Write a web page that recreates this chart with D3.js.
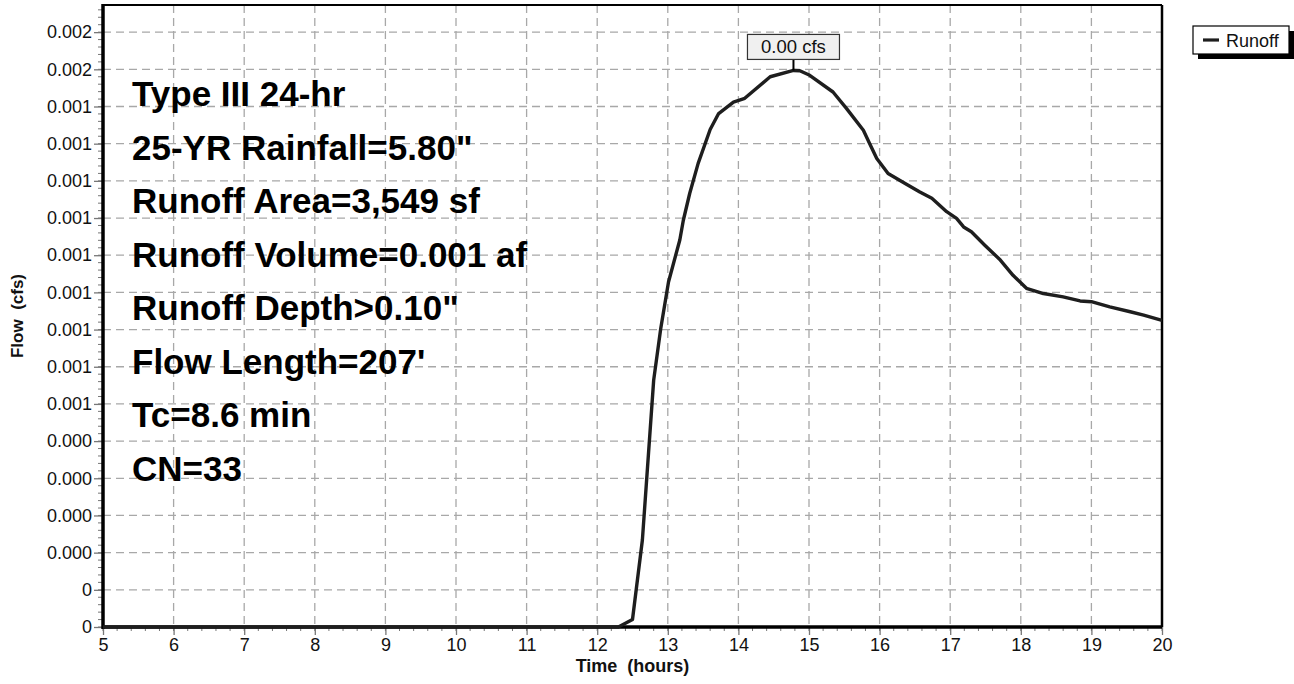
<!DOCTYPE html>
<html><head><meta charset="utf-8">
<script src="https://cdn.jsdelivr.net/npm/d3@7"></script>
<style>
html,body{margin:0;padding:0;background:#fff;}
svg{display:block;font-family:"Liberation Sans",Arial,Helvetica,sans-serif;}
</style></head>
<body><svg id="c" width="1294" height="684"></svg>
<script>
// ---- data ----
const seriesName = "Runoff";
const timeHours = [5.0,12.30,12.50,12.64,12.80,12.90,13.01,13.17,13.22,13.31,13.43,13.60,13.72,13.93,14.09,14.45,14.78,14.87,15.01,15.34,15.53,15.77,15.86,15.96,16.12,16.38,16.57,16.74,16.95,17.09,17.19,17.30,17.49,17.71,17.89,18.08,18.32,18.60,18.84,19.00,19.26,19.55,19.74,20.00];
const flowCfs = [0,0,0.00002,0.000234,0.000664,0.000803,0.000928,0.001041,0.001094,0.001166,0.001247,0.001338,0.001381,0.001412,0.001422,0.001480,0.001497,0.001496,0.001484,0.001439,0.001395,0.001336,0.001300,0.001260,0.001220,0.001191,0.001170,0.001153,0.001117,0.001099,0.001076,0.001063,0.001027,0.000987,0.000946,0.000911,0.000897,0.000888,0.000877,0.000875,0.000861,0.000848,0.000839,0.000825];
const xTickValues = [5,6,7,8,9,10,11,12,13,14,15,16,17,18,19,20];
const yTickValues = [0,0.0001,0.0002,0.0003,0.0004,0.0005,0.0006,0.0007,0.0008,0.0009,0.0010,0.0011,0.0012,0.0013,0.0014,0.0015,0.0016];
const yTickLabels = ["0","0","0.000","0.000","0.000","0.000","0.001","0.001","0.001","0.001","0.001","0.001","0.001","0.001","0.001","0.002","0.002"];
const infoLines = ["Type III 24-hr","25-YR Rainfall=5.80\"","Runoff Area=3,549 sf","Runoff Volume=0.001 af","Runoff Depth>0.10\"","Flow Length=207'","Tc=8.6 min","CN=33"];
const peakLabel = "0.00 cfs";
const xTitle = "Time  (hours)";
const yTitle = "Flow  (cfs)";

// ---- layout ----
const L=103, R=1162, T=5, B=627;
const svg=d3.select("#c");
const x=d3.scaleLinear().domain([5,20]).range([L,R]);
const y=d3.scaleLinear().domain([0,0.001673]).range([B,T]);

// grid
const grid=svg.append("g").attr("stroke","#a8a8a8").attr("stroke-width",1.3).attr("stroke-dasharray","8,5");
grid.selectAll(".gv").data(xTickValues.slice(1,-1)).join("line")
  .attr("x1",d=>x(d)).attr("x2",d=>x(d)).attr("y1",T).attr("y2",B);
grid.selectAll(".gh").data(yTickValues.slice(1)).join("line")
  .attr("x1",L).attr("x2",R).attr("y1",d=>y(d)).attr("y2",d=>y(d));

// minor ticks
const xMinor=d3.range(5,20.001,0.2);
const yMinor=d3.range(0,0.001673,0.00002);
svg.append("g").selectAll("line").data(xMinor).join("line")
  .attr("x1",d=>x(d)).attr("x2",d=>x(d)).attr("y1",B).attr("y2",B+4).attr("stroke","#777").attr("stroke-width",1);
svg.append("g").selectAll("line").data(yMinor).join("line")
  .attr("x1",L-5).attr("x2",L).attr("y1",d=>y(d)).attr("y2",d=>y(d)).attr("stroke","#777").attr("stroke-width",1);

// axes
const xAxis=d3.axisBottom(x).tickValues(xTickValues).tickSize(8).tickPadding(3).tickFormat(d3.format("d"));
const gx=svg.append("g").attr("transform",`translate(0,${B})`).call(xAxis);
gx.select(".domain").remove();
gx.selectAll(".tick line").attr("stroke","#777").attr("stroke-width",1.3);
gx.selectAll("text").attr("font-size",18).attr("fill","#111").attr("font-family","Liberation Sans, Arial, sans-serif");

const yAxis=d3.axisLeft(y).tickValues(yTickValues).tickSize(9).tickPadding(2).tickFormat((d,i)=>yTickLabels[i]);
const gy=svg.append("g").attr("transform",`translate(${L},0)`).call(yAxis);
gy.select(".domain").remove();
gy.selectAll(".tick line").attr("stroke","#777").attr("stroke-width",1.3);
gy.selectAll("text").attr("font-size",18).attr("fill","#111").attr("font-family","Liberation Sans, Arial, sans-serif");

// frame
svg.append("line").attr("x1",L).attr("x2",R).attr("y1",T).attr("y2",T).attr("stroke","#000").attr("stroke-width",2);
svg.append("line").attr("x1",R).attr("x2",R).attr("y1",T).attr("y2",B).attr("stroke","#000").attr("stroke-width",2.5);
svg.append("line").attr("x1",L).attr("x2",L).attr("y1",T-1).attr("y2",B+2).attr("stroke","#000").attr("stroke-width",3.5);
svg.append("line").attr("x1",L).attr("x2",R).attr("y1",B).attr("y2",B).attr("stroke","#000").attr("stroke-width",3.5);

// curve
const pts=timeHours.map((t,i)=>[t,flowCfs[i]]);
svg.append("path").datum(pts)
  .attr("d",d3.line().x(d=>x(d[0])).y(d=>y(d[1])))
  .attr("fill","none").attr("stroke","#1e1e1e").attr("stroke-width",3.4).attr("stroke-linejoin","round");

// peak label
let pi=d3.maxIndex(flowCfs);
const px=x(timeHours[pi]), py=y(flowCfs[pi]);
svg.append("line").attr("x1",px).attr("x2",px).attr("y1",py-11).attr("y2",py).attr("stroke","#000").attr("stroke-width",2);
svg.append("rect").attr("x",px-46).attr("y",py-36).attr("width",92).attr("height",25)
  .attr("fill","#f0f0f0").attr("stroke","#333").attr("stroke-width",1.2);
svg.append("text").attr("x",px).attr("y",py-17).attr("text-anchor","middle").attr("font-size",18.5).attr("fill","#111").text(peakLabel);

// info text
svg.append("g").selectAll("text").data(infoLines).join("text")
  .attr("x",132).attr("y",(d,i)=>106+i*53.5)
  .attr("font-size",35).attr("font-weight","bold").attr("fill","#000").text(d=>d);

// axis titles
svg.append("text").attr("x",(L+R)/2).attr("y",672).attr("text-anchor","middle")
  .attr("font-size",18).attr("font-weight","bold").attr("fill","#111").style("white-space","pre").text(xTitle);
svg.append("text").attr("transform",`translate(23,${(T+B)/2}) rotate(-90)`).attr("text-anchor","middle")
  .attr("font-size",17).attr("font-weight","bold").attr("fill","#111").style("white-space","pre").text(yTitle);

// legend
const lg=svg.append("g");
lg.append("rect").attr("x",1198).attr("y",31).attr("width",96).attr("height",28).attr("fill","#000");
lg.append("rect").attr("x",1193).attr("y",26).attr("width",96).attr("height",28).attr("fill","#fff").attr("stroke","#000").attr("stroke-width",1.2);
lg.append("line").attr("x1",1203).attr("x2",1219).attr("y1",40).attr("y2",40).attr("stroke","#1e1e1e").attr("stroke-width",3.2);
lg.append("text").attr("x",1226).attr("y",46.5).attr("font-size",18).attr("fill","#111").text(seriesName);
</script></body></html>
